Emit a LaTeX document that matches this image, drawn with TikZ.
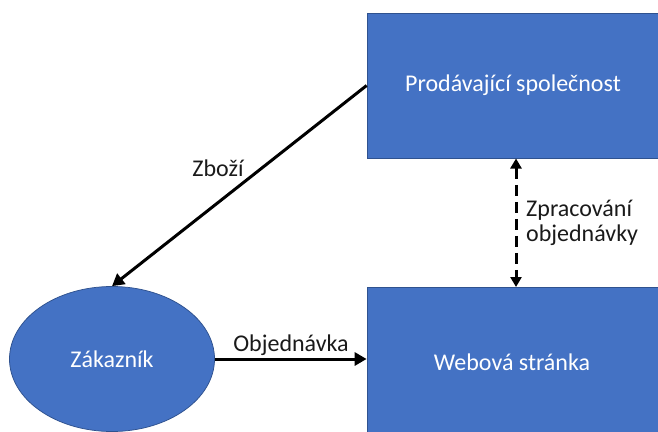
\documentclass[tikz,border=0pt]{standalone}
\usepackage{fontspec}
\setmainfont{Carlito}
\usetikzlibrary{arrows.meta,shapes.geometric}
\definecolor{boxblue}{HTML}{4472C4}
\definecolor{boxedge}{HTML}{2F528F}
\definecolor{labelgray}{HTML}{1A1A1A}
\begin{document}
\begin{tikzpicture}[x=1pt,y=-1pt,
  shapebox/.style={fill=boxblue,draw=boxedge,line width=0.75pt,text=white,inner sep=0pt,
    font=\fontsize{24}{28}\selectfont},
  flowarrow/.style={line width=3pt,draw=black,-{Triangle[length=12pt,width=13pt]}},
  lbl/.style={text=labelgray,font=\fontsize{24}{27}\selectfont,inner sep=0pt}]
\useasboundingbox (0,0) rectangle (658,431);
\clip (0,0) rectangle (658,431);
\node[shapebox,rectangle,minimum width=292pt,minimum height=145pt] (seller) at (513,85.5) {Prodávající společnost};
\node[shapebox,rectangle,minimum width=296pt,minimum height=148pt] (web) at (515,361) {};
\node[text=white,font=\fontsize{24}{28}\selectfont] (webtext) at (512,362) {Webová stránka};
\node[shapebox,ellipse,minimum width=205pt,minimum height=145pt] (cust) at (112,359) {Zákazník};
\draw[flowarrow] (seller.west) -- (cust.north);
\draw[flowarrow] (cust.east) -- (web.west |- cust.east);
\coordinate (dtop) at (516,158.5);
\coordinate (dbot) at (516,287);
\draw[line width=3pt,dash pattern=on 11pt off 6pt,{Triangle[length=10pt,width=11pt]}-{Triangle[length=10pt,width=11pt]}] (dtop) -- (dbot);
\node[lbl] (zbozi) at (218,168) {Zboží};
\node[lbl] (obj) at (291,345) {Objednávka};
\node[lbl,anchor=west,align=left,font=\fontsize{24}{25}\selectfont] (zprac) at (526,223) {Zpracování\\objednávky};
\end{tikzpicture}
\end{document}
